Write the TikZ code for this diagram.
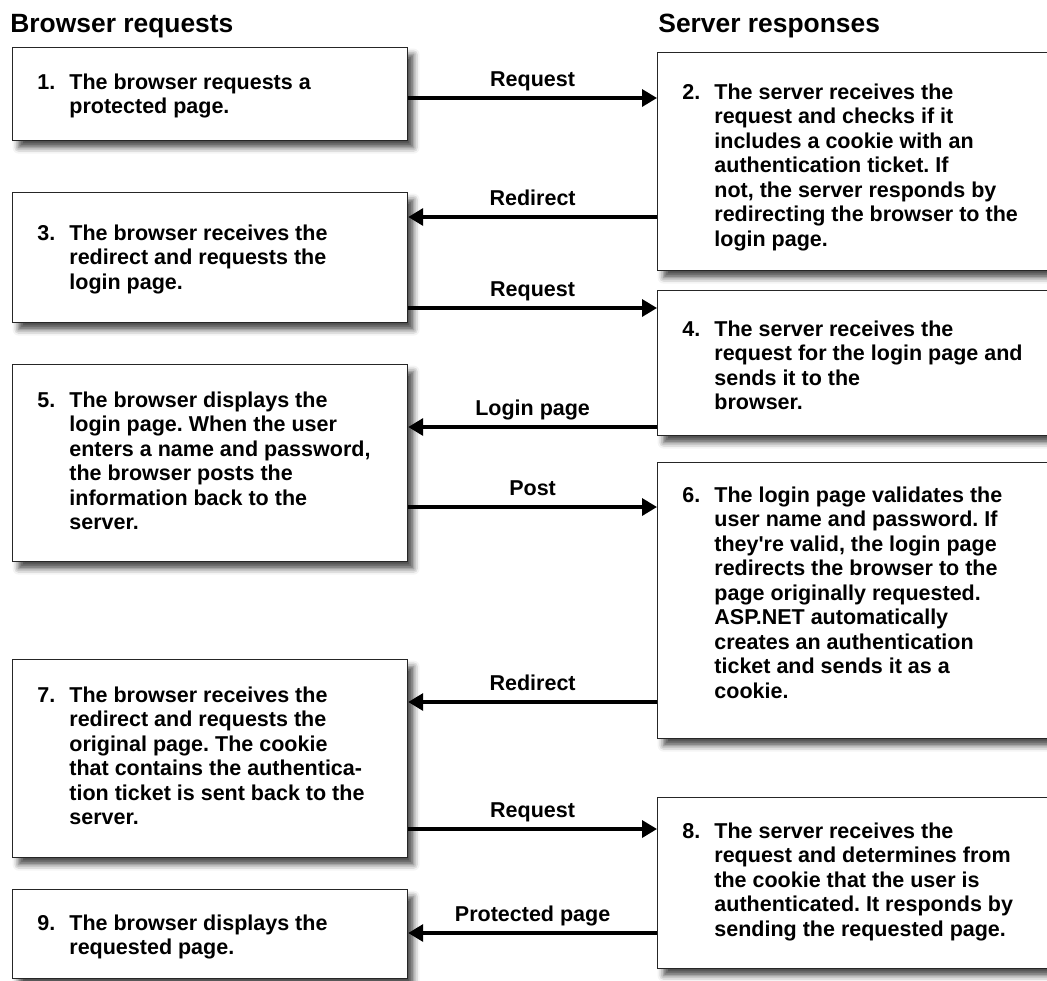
\documentclass[tikz,border=0pt]{standalone}
\usepackage{fontspec}
\setmainfont{Liberation Sans}
\usetikzlibrary{arrows.meta,shadows.blur}
\frenchspacing

\newcommand{\bodyfont}{\fontsize{10.75}{12.25}\selectfont\bfseries}
\newcommand{\numitem}[2]{\makebox[16pt][l]{#1}\begin{tabular}[t]{@{}l@{}}#2\end{tabular}}

\tikzset{
  box/.style={draw=black!85, line width=0.6pt, fill=white, rectangle, anchor=north west, inner sep=0pt,
    blur shadow={shadow xshift=3pt, shadow yshift=-3.5pt, shadow blur radius=3pt, shadow opacity=70}},
  lbox/.style={box, minimum width=197.5pt},
  rbox/.style={box, minimum width=209pt},
  txt/.style={anchor=base west, inner sep=0pt, font=\bodyfont},
  head/.style={anchor=base west, inner sep=0pt, font=\fontsize{13.2}{16}\selectfont\bfseries},
  flow/.style={line width=1.7pt, -{Triangle[length=7.5pt,width=8.5pt]}},
  lbl/.style={midway, anchor=base, yshift=5.75pt, inner sep=0pt, font=\bodyfont}
}

\begin{document}
\begin{tikzpicture}[x=0.5pt, y=-0.5pt]
    \clip (0,0) rectangle (1047,980);

    % column headings
    \node[head] (hb) at (10,32) {Browser requests};
    \node[head] (hs) at (658,32) {Server responses};

    % browser side
    \node[lbox, minimum height=46.5pt] (b1) at (12,47) {};
    \node[lbox, minimum height=65pt]   (b3) at (12,192) {};
    \node[lbox, minimum height=98.5pt] (b5) at (12,364) {};
    \node[lbox, minimum height=99pt]   (b7) at (12,659) {};
    \node[lbox, minimum height=44.5pt] (b9) at (12,889) {};

    % server side
    \node[rbox, minimum height=109pt]  (b2) at (657,52) {};
    \node[rbox, minimum height=72.5pt] (b4) at (657,290) {};
    \node[rbox, minimum height=138pt]  (b6) at (657,462) {};
    \node[rbox, minimum height=85.5pt] (b8) at (657,797) {};

    \node[txt] (t1) at (37,89) {\numitem{1.}{The browser requests a\\protected page.}};
    \node[txt] (t3) at (37,240) {\numitem{3.}{The browser receives the\\redirect and requests the\\login page.}};
    \node[txt] (t5) at (37,407) {\numitem{5.}{The browser displays the\\login page. When the user\\enters a name and password,\\the browser posts the\\information back to the\\server.}};
    \node[txt] (t7) at (37,702) {\numitem{7.}{The browser receives the\\redirect and requests the\\original page. The cookie\\that contains the authentica-\\tion ticket is sent back to the\\server.}};
    \node[txt] (t9) at (37,930) {\numitem{9.}{The browser displays the\\requested page.}};

    \node[txt] (t2) at (682,99) {\numitem{2.}{The server receives the\\request and checks if it\\includes a cookie with an\\authentication ticket. If\\not, the server responds by\\redirecting the browser to the\\login page.}};
    \node[txt] (t4) at (682,336) {\numitem{4.}{The server receives the\\request for the login page and\\sends it to the\\browser.}};
    \node[txt] (t6) at (682,502) {\numitem{6.}{The login page validates the\\user name and password. If\\they\textquotesingle re valid, the login page\\redirects the browser to the\\page originally requested.\\ASP.NET automatically\\creates an authentication\\ticket and sends it as a\\cookie.}};
    \node[txt] (t8) at (682,838) {\numitem{8.}{The server receives the\\request and determines from\\the cookie that the user is\\authenticated. It responds by\\sending the requested page.}};

    % message rows
    \coordinate (a1) at (0,98);
    \coordinate (a2) at (0,217);
    \coordinate (a3) at (0,308);
    \coordinate (a4) at (0,427);
    \coordinate (a5) at (0,507);
    \coordinate (a6) at (0,702);
    \coordinate (a7) at (0,829);
    \coordinate (a8) at (0,933);

    \draw[flow] (b1.east |- a1) -- node[lbl] {Request} (b2.west |- a1);
    \draw[flow] (b2.west |- a2) -- node[lbl] {Redirect} (b3.east |- a2);
    \draw[flow] (b3.east |- a3) -- node[lbl] {Request} (b4.west |- a3);
    \draw[flow] (b4.west |- a4) -- node[lbl] {Login page} (b5.east |- a4);
    \draw[flow] (b5.east |- a5) -- node[lbl] {Post} (b6.west |- a5);
    \draw[flow] (b6.west |- a6) -- node[lbl] {Redirect} (b7.east |- a6);
    \draw[flow] (b7.east |- a7) -- node[lbl] {Request} (b8.west |- a7);
    \draw[flow] (b8.west |- a8) -- node[lbl] {Protected page} (b9.east |- a8);
\end{tikzpicture}
\end{document}
